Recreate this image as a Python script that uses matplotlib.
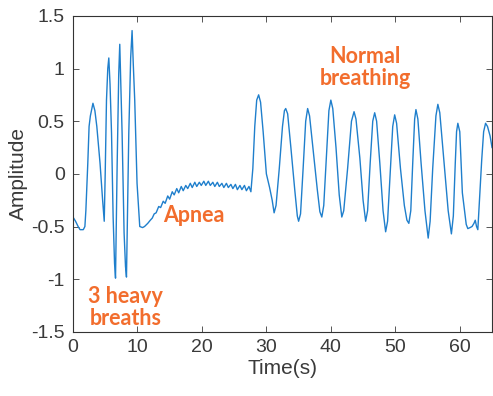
import numpy as np
import matplotlib
matplotlib.use("Agg")
import matplotlib.pyplot as plt

# rest before the heavy breaths
t_start = [0, 0.4, 0.8, 1.1, 1.6, 1.85, 2.0, 2.3, 2.5, 2.7, 3.1, 3.4, 3.7, 4.2, 4.6, 4.85]
a_start = [-0.41, -0.45, -0.50, -0.53, -0.53, -0.50, -0.35, 0.10, 0.45, 0.55, 0.67, 0.60, 0.45, 0.10, -0.25, -0.45]

# 3 heavy breaths
t_heavy = [5.0, 5.2, 5.4, 5.56, 5.75, 5.98, 6.23, 6.45, 6.6, 6.85, 7.1, 7.26, 7.42, 7.62, 7.93, 8.15, 8.3,
           8.66, 8.95, 9.17, 9.35, 9.58, 9.94, 10.36, 10.8, 11.1]
a_heavy = [0.0, 0.70, 1.0, 1.10, 0.85, 0.39, -0.41, -0.85, -0.99, 0.07, 0.95, 1.23, 0.85, 0.39, -0.56, -0.88, -0.98,
           0.39, 1.10, 1.36, 1.05, 0.70, -0.09, -0.50, -0.51, -0.50]

# apnea: slow drift with small ripples
t_apnea = [11.6, 12.0, 12.3, 12.6, 12.9, 13.3, 13.6, 14.0, 14.3, 14.7, 15.0, 15.4, 15.7, 16.1, 16.4, 16.8,
           17.1, 17.5, 17.8, 18.2, 18.5, 18.9, 19.2, 19.6, 19.9, 20.3, 20.6, 21.0, 21.3, 21.7, 22.0, 22.4,
           22.7, 23.1, 23.4, 23.8, 24.1, 24.5, 24.8, 25.2, 25.5, 25.9, 26.2, 26.6, 26.9, 27.3, 27.6]
a_apnea = [-0.47, -0.44, -0.42, -0.38, -0.37, -0.31, -0.32, -0.26, -0.28, -0.21, -0.24, -0.17, -0.20, -0.14, -0.18, -0.12,
           -0.16, -0.11, -0.14, -0.09, -0.13, -0.08, -0.12, -0.08, -0.11, -0.07, -0.11, -0.07, -0.11, -0.08, -0.12, -0.08,
           -0.12, -0.09, -0.13, -0.09, -0.13, -0.10, -0.14, -0.10, -0.15, -0.11, -0.15, -0.11, -0.16, -0.12, -0.17]

# normal breathing
t_normal = [27.9, 28.2, 28.5, 28.8, 29.1, 29.5, 30.0, 30.5, 30.9, 31.2, 31.5,
            32.0, 32.5, 32.8, 33.0, 33.3, 33.8, 34.4, 34.8, 35.0, 35.3,
            35.7, 36.1, 36.4, 36.7, 37.3, 37.9, 38.3, 38.6, 38.9,
            39.3, 39.7, 40.0, 40.3, 40.8, 41.3, 41.7, 42.0,
            42.6, 43.2, 43.6, 43.9, 44.5, 45.0, 45.4, 45.7,
            46.1, 46.5, 46.8, 47.1, 47.6, 48.1, 48.5, 48.8,
            49.2, 49.6, 49.9, 50.2, 50.8, 51.4, 51.8, 52.1, 52.4,
            52.7, 53.0, 53.2, 53.5, 54.0, 54.6, 55.1, 55.4,
            55.8, 56.3, 56.6, 56.9, 57.5, 58.2, 58.7, 59.0,
            59.3, 59.5, 59.7, 60.0, 60.4, 61.0, 61.25, 61.6, 61.9, 62.2, 62.4, 62.6, 62.8,
            63.1, 63.4, 63.7, 64.0, 64.3, 64.7, 65.0]
a_normal = [0.05, 0.45, 0.70, 0.75, 0.68, 0.40, 0.00, -0.13, -0.25, -0.37, -0.30,
            0.05, 0.45, 0.60, 0.62, 0.57, 0.25, -0.15, -0.40, -0.45, -0.38,
            0.05, 0.50, 0.62, 0.55, 0.20, -0.15, -0.36, -0.41, -0.30,
            0.15, 0.60, 0.70, 0.62, 0.25, -0.20, -0.41, -0.35,
            0.05, 0.50, 0.59, 0.52, 0.15, -0.25, -0.45, -0.35,
            0.10, 0.50, 0.58, 0.50, 0.10, -0.35, -0.55, -0.45,
            0.00, 0.45, 0.56, 0.48, 0.05, -0.30, -0.44, -0.47, -0.35,
            0.10, 0.52, 0.61, 0.52, 0.10, -0.35, -0.61, -0.45,
            0.05, 0.55, 0.66, 0.58, 0.15, -0.35, -0.57, -0.40,
            0.10, 0.40, 0.48, 0.40, -0.18, -0.48, -0.52, -0.51, -0.50, -0.47, -0.44, -0.50, -0.53,
            -0.20, 0.13, 0.40, 0.48, 0.45, 0.36, 0.25]

t = np.array(t_start + t_heavy + t_apnea + t_normal)
amp = np.array(a_start + a_heavy + a_apnea + a_normal)

plt.rcParams['font.family'] = ['Liberation Sans', 'DejaVu Sans']
orange = '#f26d2d'
ink = '#3a3a3a'

fig = plt.figure(figsize=(4.93, 3.96), dpi=100)
ax = fig.add_axes([0.148, 0.162, 0.850, 0.798])
ax.plot(t, amp, color='#1f7fcc', linewidth=1.0)

ax.set_xlim(0, 65)
ax.set_ylim(-1.5, 1.5)
ax.set_xticks([0, 10, 20, 30, 40, 50, 60])
ax.set_yticks([-1.5, -1, -0.5, 0, 0.5, 1, 1.5])
ax.set_yticklabels(['-1.5', '-1', '-0.5', '0', '0.5', '1', '1.5'])
ax.tick_params(direction='in', top=True, right=True, labelsize=14, colors=ink, length=4, width=0.6)
ax.tick_params(axis='x', pad=5)
ax.tick_params(axis='y', pad=6)
for s in ax.spines.values():
    s.set_color('#333333')
    s.set_linewidth(0.8)
ax.set_xlabel('Time(s)', fontsize=15, color=ink, labelpad=2)
ax.set_ylabel('Amplitude', fontsize=15, color=ink, labelpad=2)

ax.text(45.3, 1.01, 'Normal\nbreathing', color=orange, fontsize=15.5, fontweight='bold',
        family='Lato', ha='center', va='center', linespacing=1.05)
ax.text(18.7, -0.40, 'Apnea', color=orange, fontsize=15.5, fontweight='bold',
        family='Lato', ha='center', va='center')
ax.text(8.2, -1.27, '3 heavy\nbreaths', color=orange, fontsize=15.5, fontweight='bold',
        family='Lato', ha='center', va='center', linespacing=1.05)

fig.savefig('out.png', dpi=100)
